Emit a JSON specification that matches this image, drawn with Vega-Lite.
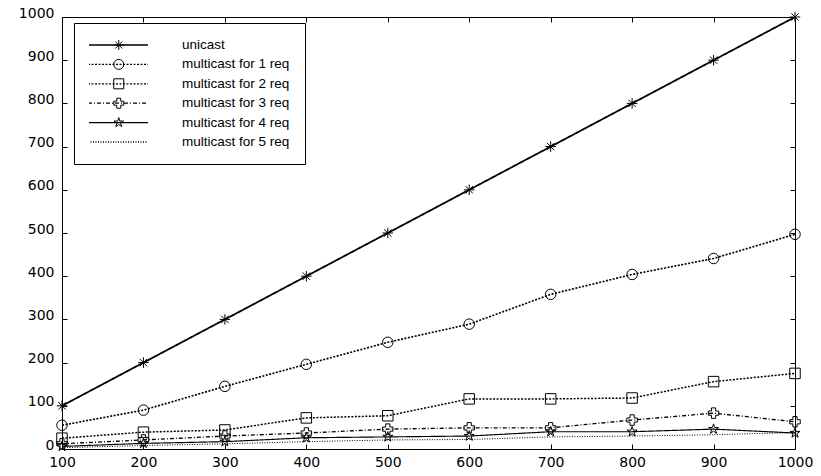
{
  "$schema": "https://vega.github.io/schema/vega-lite/v6.json",
  "width": 733,
  "height": 432,
  "autosize": "none",
  "padding": {"left": 62, "top": 17, "right": 26, "bottom": 27},
  "background": "white",
  "config": {
    "view": {"stroke": "black", "strokeWidth": 1},
    "font": "Liberation Sans",
    "axis": {"labelFont": "DejaVu Sans", "labelFontSize": 14, "labelColor": "black", "domainColor": "black", "tickColor": "black", "grid": false, "title": null}
  },
  "data": {"values": [
    {"series": "unicast", "x": 100, "y": 100}, {"series": "unicast", "x": 200, "y": 200}, {"series": "unicast", "x": 300, "y": 300}, {"series": "unicast", "x": 400, "y": 400}, {"series": "unicast", "x": 500, "y": 500}, {"series": "unicast", "x": 600, "y": 600}, {"series": "unicast", "x": 700, "y": 700}, {"series": "unicast", "x": 800, "y": 800}, {"series": "unicast", "x": 900, "y": 900}, {"series": "unicast", "x": 1000, "y": 1000},
    {"series": "multicast for 1 req", "x": 100, "y": 55}, {"series": "multicast for 1 req", "x": 200, "y": 90}, {"series": "multicast for 1 req", "x": 300, "y": 145}, {"series": "multicast for 1 req", "x": 400, "y": 196}, {"series": "multicast for 1 req", "x": 500, "y": 247}, {"series": "multicast for 1 req", "x": 600, "y": 289}, {"series": "multicast for 1 req", "x": 700, "y": 358}, {"series": "multicast for 1 req", "x": 800, "y": 404}, {"series": "multicast for 1 req", "x": 900, "y": 441}, {"series": "multicast for 1 req", "x": 1000, "y": 497},
    {"series": "multicast for 2 req", "x": 100, "y": 25}, {"series": "multicast for 2 req", "x": 200, "y": 39}, {"series": "multicast for 2 req", "x": 300, "y": 44}, {"series": "multicast for 2 req", "x": 400, "y": 72}, {"series": "multicast for 2 req", "x": 500, "y": 77}, {"series": "multicast for 2 req", "x": 600, "y": 116}, {"series": "multicast for 2 req", "x": 700, "y": 116}, {"series": "multicast for 2 req", "x": 800, "y": 118}, {"series": "multicast for 2 req", "x": 900, "y": 156}, {"series": "multicast for 2 req", "x": 1000, "y": 175},
    {"series": "multicast for 3 req", "x": 100, "y": 12}, {"series": "multicast for 3 req", "x": 200, "y": 21}, {"series": "multicast for 3 req", "x": 300, "y": 30}, {"series": "multicast for 3 req", "x": 400, "y": 37}, {"series": "multicast for 3 req", "x": 500, "y": 46}, {"series": "multicast for 3 req", "x": 600, "y": 49}, {"series": "multicast for 3 req", "x": 700, "y": 49}, {"series": "multicast for 3 req", "x": 800, "y": 67}, {"series": "multicast for 3 req", "x": 900, "y": 83}, {"series": "multicast for 3 req", "x": 1000, "y": 63},
    {"series": "multicast for 4 req", "x": 100, "y": 6}, {"series": "multicast for 4 req", "x": 200, "y": 13}, {"series": "multicast for 4 req", "x": 300, "y": 17}, {"series": "multicast for 4 req", "x": 400, "y": 26}, {"series": "multicast for 4 req", "x": 500, "y": 28}, {"series": "multicast for 4 req", "x": 600, "y": 30}, {"series": "multicast for 4 req", "x": 700, "y": 40}, {"series": "multicast for 4 req", "x": 800, "y": 40}, {"series": "multicast for 4 req", "x": 900, "y": 46}, {"series": "multicast for 4 req", "x": 1000, "y": 37},
    {"series": "multicast for 5 req", "x": 100, "y": 3}, {"series": "multicast for 5 req", "x": 200, "y": 8}, {"series": "multicast for 5 req", "x": 300, "y": 12}, {"series": "multicast for 5 req", "x": 400, "y": 17}, {"series": "multicast for 5 req", "x": 500, "y": 21}, {"series": "multicast for 5 req", "x": 600, "y": 22}, {"series": "multicast for 5 req", "x": 700, "y": 28}, {"series": "multicast for 5 req", "x": 800, "y": 30}, {"series": "multicast for 5 req", "x": 900, "y": 33}, {"series": "multicast for 5 req", "x": 1000, "y": 38}
  ]},
  "resolve": {"axis": {"x": "independent", "y": "independent"}, "legend": {"shape": "independent", "strokeDash": "independent"}},
  "layer": [
    {
      "mark": {"type": "line", "color": "black", "clip": true},
      "encoding": {
        "x": {"field": "x", "type": "quantitative", "scale": {"domain": [100, 1000], "nice": false, "zero": false},
              "axis": {"values": [100, 200, 300, 400, 500, 600, 700, 800, 900, 1000], "format": "d", "tickSize": -5, "labelPadding": 11, "domain": false, "labelFlush": false}},
        "y": {"field": "y", "type": "quantitative", "scale": {"domain": [0, 1000], "nice": false},
              "axis": {"values": [0, 100, 200, 300, 400, 500, 600, 700, 800, 900, 1000], "format": "d", "tickSize": -5, "labelPadding": 13, "labelOffset": -4, "domain": false, "labelFlush": false}},
        "detail": {"field": "series"},
        "strokeDash": {"field": "series", "type": "nominal",
          "sort": ["unicast", "multicast for 1 req", "multicast for 2 req", "multicast for 3 req", "multicast for 4 req", "multicast for 5 req"],
          "scale": {"range": [[1, 0], [2, 1.5], [2, 1.5], [4, 2, 1, 2], [1, 0], [1, 1.5]]},
          "legend": {"orient": "none", "legendX": 12, "legendY": 6, "title": null, "symbolType": "stroke", "symbolSize": 3600,
            "symbolStrokeColor": "black", "symbolStrokeWidth": 1.3, "clipHeight": 14, "rowPadding": 5.4, "padding": 15, "symbolOffset": -2,
            "labelOffset": 33, "labelFont": "Liberation Sans", "labelFontSize": 13.5, "labelColor": "black",
            "strokeColor": "black", "fillColor": "transparent", "labelLimit": 300}},
        "strokeWidth": {"field": "series", "type": "nominal",
          "scale": {"domain": ["unicast", "multicast for 1 req", "multicast for 2 req", "multicast for 3 req", "multicast for 4 req", "multicast for 5 req"], "range": [1.8, 1, 1, 1, 1, 1]},
          "legend": null}
      }
    },
    {
      "transform": [{"filter": "datum.series !== 'multicast for 5 req'"}],
      "mark": {"type": "point", "filled": false, "stroke": "black", "strokeWidth": 1, "size": 110, "opacity": 1},
      "encoding": {
        "x": {"field": "x", "type": "quantitative", "axis": {"orient": "top", "labels": false, "tickSize": -5, "domain": false, "values": [100, 200, 300, 400, 500, 600, 700, 800, 900, 1000]}},
        "y": {"field": "y", "type": "quantitative", "axis": {"orient": "right", "labels": false, "tickSize": -5, "domain": false, "values": [0, 100, 200, 300, 400, 500, 600, 700, 800, 900, 1000]}},
        "shape": {"field": "series", "type": "nominal",
          "scale": {"domain": ["unicast", "multicast for 1 req", "multicast for 2 req", "multicast for 3 req", "multicast for 4 req", "multicast for 5 req"],
            "range": ["M-1,0L1,0M0,-1L0,1M-0.7,-0.7L0.7,0.7M-0.7,0.7L0.7,-0.7", "circle", "square", "cross", "M0,-1L0.2245,-0.309L0.951,-0.309L0.363,0.118L0.588,0.809L0,0.382L-0.588,0.809L-0.363,0.118L-0.951,-0.309L-0.2245,-0.309Z", "M0,0L0,0"]},
          "legend": {"orient": "top-left", "offset": 0, "title": null, "symbolSize": 100, "clipHeight": 14, "rowPadding": 5.4, "padding": 21, "symbolOffset": 29,
            "symbolStrokeColor": "black", "symbolFillColor": "white", "symbolStrokeWidth": 1, "labelExpr": "''", "labelFontSize": 13.5, "fillColor": "transparent", "strokeColor": "transparent"}}
      }
    }
  ]
}
